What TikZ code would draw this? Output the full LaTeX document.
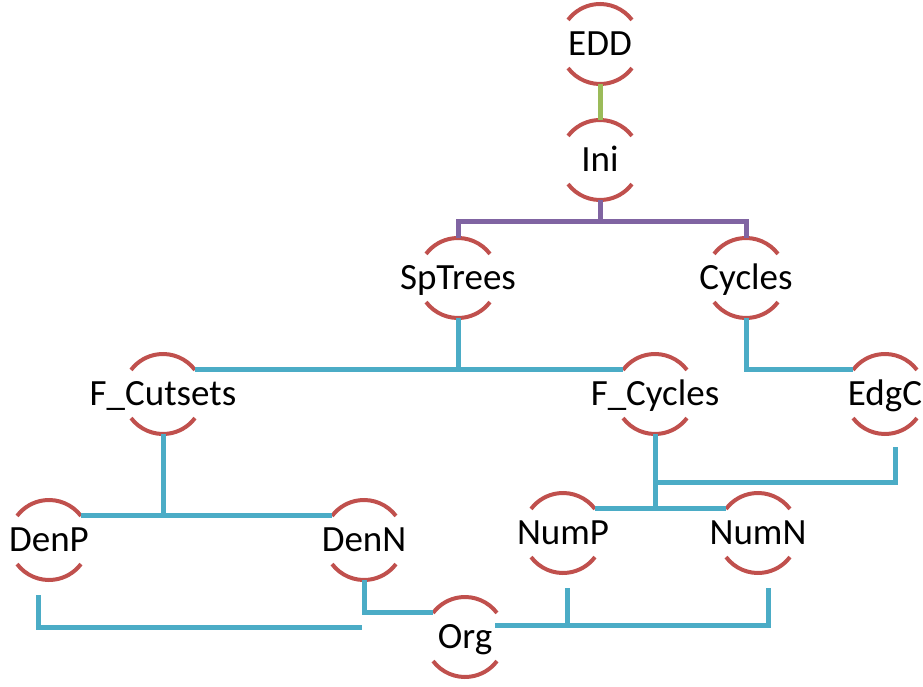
\documentclass[tikz,border=0pt]{standalone}
\usepackage{fontspec}
\setmainfont{Carlito}
\definecolor{arcred}{HTML}{C0504D}
\definecolor{linkblue}{HTML}{4BACC6}
\definecolor{linkpurple}{HTML}{8064A2}
\definecolor{linkgreen}{HTML}{9BBB59}
\begin{document}
\begin{tikzpicture}[x=1pt,y=1pt,
  cnode/.style={circle, minimum size=80pt, inner sep=0pt, outer sep=0pt,
    text height=23.5pt, text depth=0pt, font=\fontsize{37}{44}\selectfont},
  halo/.style={draw=arcred, line width=4pt},
  bluelink/.style={draw=linkblue, line width=5pt},
  purplelink/.style={draw=linkpurple, line width=5pt},
  greenlink/.style={draw=linkgreen, line width=5pt}]
\useasboundingbox (0,0) rectangle (923,686);

\node[cnode] (EDD) at (600,642) {\makebox[0pt]{EDD}};
\node[cnode] (Ini) at (600,526) {\makebox[0pt]{Ini}};
\node[cnode] (SpTrees) at (458,408) {\makebox[0pt]{SpTrees}};
\node[cnode] (Cycles) at (746,408) {\makebox[0pt]{Cycles}};
\node[cnode] (FCutsets) at (163,292) {\makebox[0pt]{F\_Cutsets}};
\node[cnode] (FCycles) at (655,292) {\makebox[0pt]{F\_Cycles}};
\node[cnode] (EdgC) at (885,292) {\makebox[0pt]{EdgC}};
\node[cnode] (DenP) at (49,146) {\makebox[0pt]{DenP}};
\node[cnode] (DenN) at (364,146) {\makebox[0pt]{DenN}};
\node[cnode] (NumP) at (563,153) {\makebox[0pt]{NumP}};
\node[cnode] (NumN) at (758,153) {\makebox[0pt]{NumN}};
\node[cnode] (Org) at (465,49) {\makebox[0pt]{Org}};

\foreach \n in {EDD,Ini,SpTrees,Cycles,FCutsets,FCycles,EdgC,DenP,DenN,NumP,NumN,Org}{
  \draw[halo] (\n.37) arc[start angle=37,end angle=143,radius=40pt];
  \draw[halo] (\n.217) arc[start angle=217,end angle=323,radius=40pt];
}

% green
\draw[greenlink] (EDD.south) -- (Ini.north);
% purple
\coordinate (pj) at (600,464);
\draw[purplelink] (Ini.south) -- (pj);
\draw[purplelink] (SpTrees.north) |- (pj) -| (Cycles.north);
% SpTrees branch
\draw[bluelink] (FCutsets.37) -- (FCycles.143);
\draw[bluelink] (SpTrees.south) -- (SpTrees.south |- FCutsets.37);
% Cycles -> EdgC
\draw[bluelink] (Cycles.south) |- (EdgC.143);
% F_Cutsets branch
\draw[bluelink] (DenP.37) -- (DenN.143);
\draw[bluelink] (FCutsets.south) -- (FCutsets.south |- DenP.37);
% F_Cycles branch
\draw[bluelink] (NumP.37) -- (NumN.143);
\draw[bluelink] (FCycles.south) -- (FCycles.south |- NumP.37);
\coordinate (fcj) at (655,204);
\coordinate (edgend) at ([shift={(10pt,-13pt)}]EdgC.south);
\draw[bluelink] (fcj) -| (edgend);
% Num -> Org
\coordinate (numnend) at ([shift={(10pt,-15pt)}]NumN.south);
\coordinate (numpend) at ([shift={(4pt,-15pt)}]NumP.south);
\coordinate (orgr) at ([shift={(30pt,12pt)}]Org.center);
\draw[bluelink] (orgr) -| (numnend);
\draw[bluelink] (numpend) -- (numpend |- orgr);
% Den -> Org
\coordinate (denpend) at ([shift={(-11pt,-15pt)}]DenP.south);
\coordinate (orgl) at ([shift={(-103pt,10pt)}]Org.center);
\draw[bluelink] (denpend) |- (orgl);
\draw[bluelink] (DenN.south) |- (Org.143);
\end{tikzpicture}
\end{document}
